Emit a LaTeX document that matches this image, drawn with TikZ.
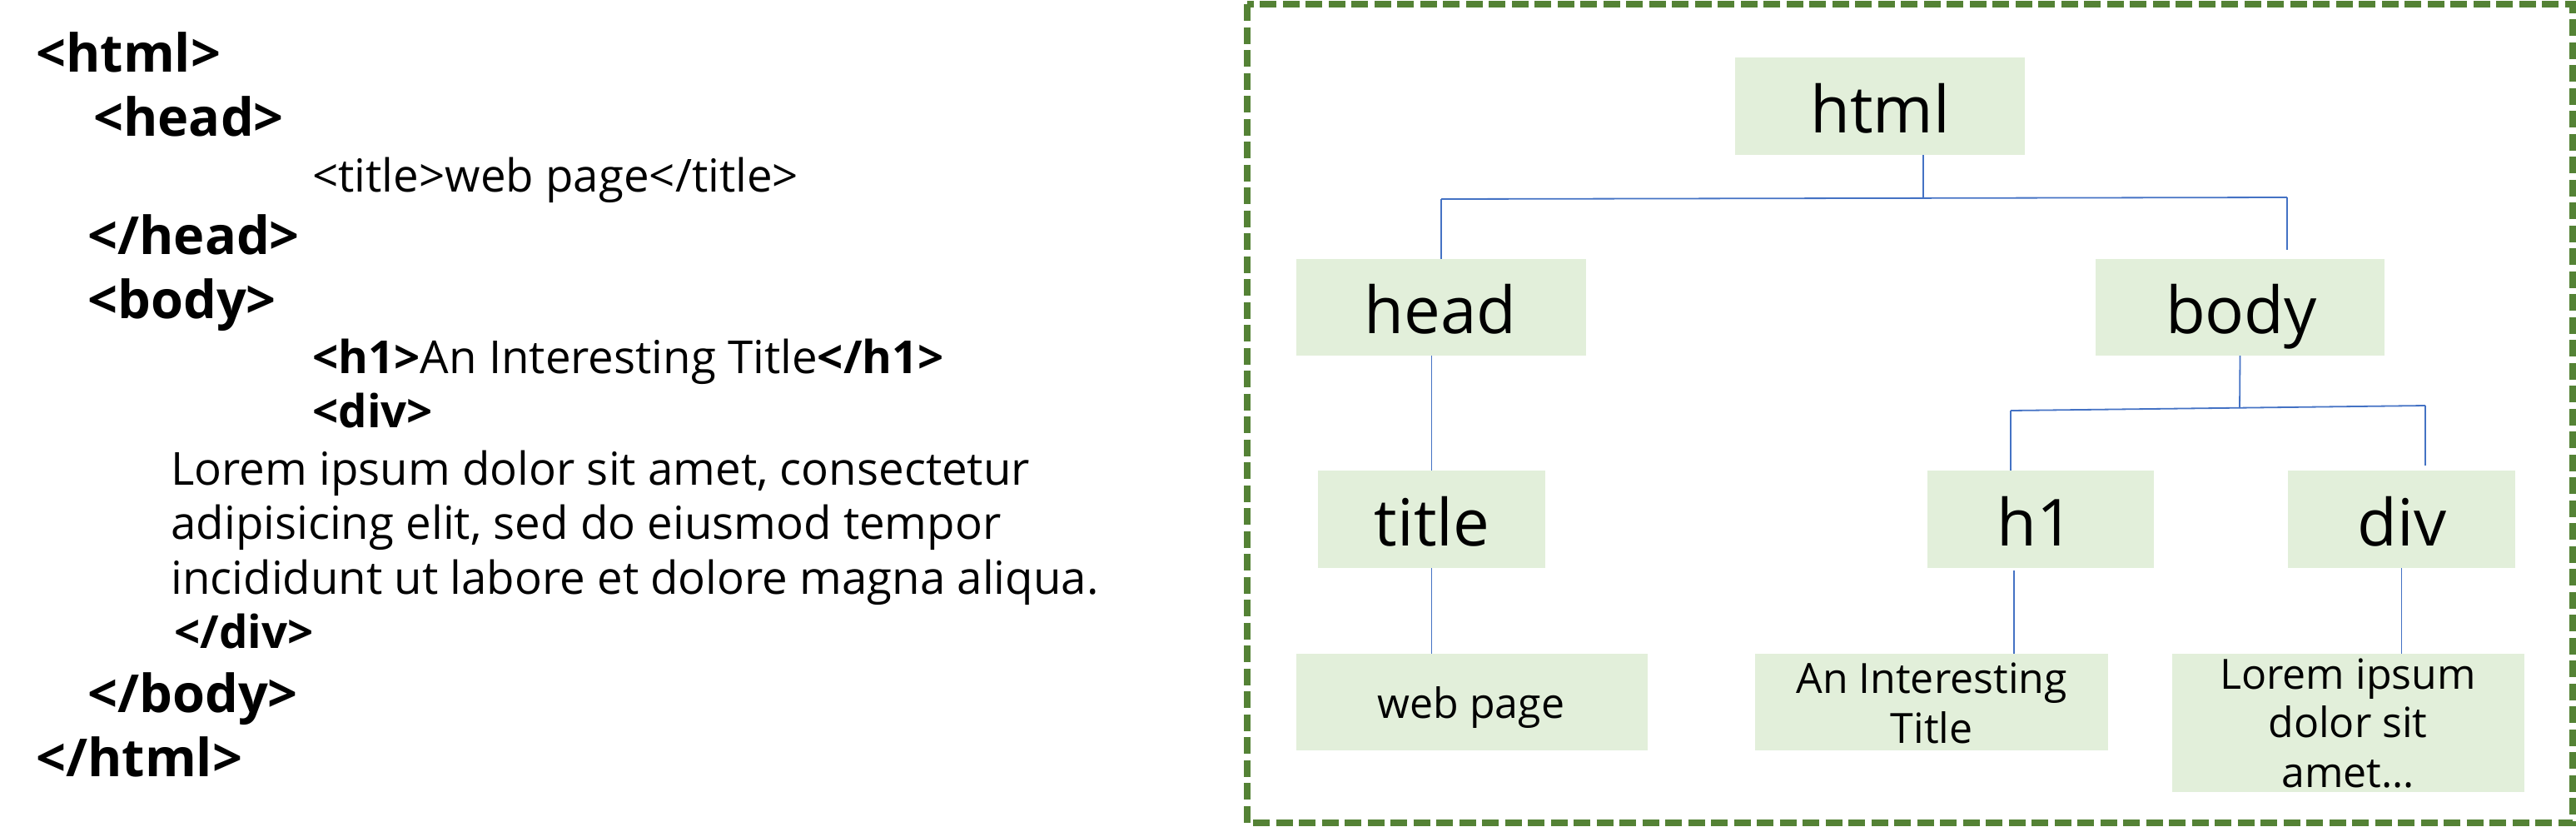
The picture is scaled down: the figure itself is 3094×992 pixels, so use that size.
\documentclass[tikz,border=0pt]{standalone}
\usepackage{fontspec}
\setmainfont{Open Sans}
\definecolor{boxgreen}{HTML}{E2EFDA}
\definecolor{framegreen}{HTML}{548235}
\definecolor{linkblue}{HTML}{4472C4}
\begin{document}
\begin{tikzpicture}[x=0.5pt,y=-0.5pt,
  box/.style={fill=boxgreen, draw=none, inner sep=0pt, outer sep=0pt},
  big/.style={font=\fontsize{39}{47}\selectfont, inner sep=0pt, anchor=base},
  small/.style={font=\fontsize{25}{30}\selectfont, inner sep=0pt, anchor=base},
  codebig/.style={font=\fontsize{31.5}{37}\selectfont\bfseries, inner sep=0pt, anchor=base west},
  code/.style={font=\fontsize{27.3}{32}\selectfont, inner sep=0pt, anchor=base west},
  conn/.style={draw=linkblue, line width=0.9pt},
  frame/.style={draw=framegreen, line width=3.6pt, dash pattern=on 10pt off 3.75pt}]
\useasboundingbox (0,0) rectangle (3094,992);

% ---------- left: source code ----------
\node[codebig] (c1) at (43,86) {<html>};
\node[codebig] (c2) at (112,163) {<head>};
\node[code] (c3) at (375,230) {<title>web page</title>};
\node[codebig] (c4) at (105,305) {</head>};
\node[codebig] (c5) at (105,382) {<body>};
\node[code] (c6) at (375,448) {\textbf{<h1>}An Interesting Title\textbf{</h1>}};
\node[code] (c7) at (375,513) {\textbf{<div>}};
\node[code] (c8) at (205,582) {Lorem ipsum dolor sit amet, consectetur};
\node[code] (c9) at (205,647) {adipisicing elit, sed do eiusmod tempor};
\node[code] (c10) at (205,713) {incididunt ut labore et dolore magna aliqua.};
\node[code] (c11) at (209,778) {\textbf{</div>}};
\node[codebig] (c12) at (105,855) {</body>};
\node[codebig] (c13) at (43,932) {</html>};

% ---------- right: frame ----------
\draw[frame] (1498,5) rectangle (3090,988);

% ---------- tree boxes ----------
\node[box, minimum width=174pt, minimum height=58.5pt] (html) at (2258,127.5) {};
\node[box, minimum width=174pt, minimum height=58pt] (head) at (1731,369) {};
\node[box, minimum width=173.5pt, minimum height=58pt] (body) at (2690.5,369) {};
\node[box, minimum width=136.5pt, minimum height=58.5pt] (title) at (1719.5,623.5) {};
\node[box, minimum width=136pt, minimum height=58.5pt] (h1) at (2451,623.5) {};
\node[box, minimum width=136.5pt, minimum height=58.5pt] (div) at (2884.5,623.5) {};
\node[box, minimum width=211pt, minimum height=58pt] (web) at (1768,843) {};
\node[box, minimum width=212pt, minimum height=58pt] (ait) at (2320,843) {};
\node[box, minimum width=211.5pt, minimum height=83pt] (lorem) at (2820.5,868) {};

% ---------- tree labels ----------
\node[big] (thtml) at (2258,159) {html};
\node[big] (thead) at (1730,400) {head};
\node[big] (tbody) at (2692,400) {body};
\node[big] (ttitle) at (1720,655) {title};
\node[big] (th1) at (2445,655) {h1};
\node[big] (tdiv) at (2885,655) {div};
\node[small] (tweb) at (1767,862) {web page};
\node[small] (tait1) at (2320,832) {An Interesting};
\node[small] (tait2) at (2320,892) {Title};
\node[small] (tlor1) at (2820,827) {Lorem ipsum};
\node[small] (tlor2) at (2820,885) {dolor sit};
\node[small] (tlor3) at (2820,945) {amet…};

% ---------- connectors ----------
\coordinate (jtop) at (2310,238);
\coordinate (jl) at (1731,239);
\coordinate (jr) at (2747,237);
\coordinate (jre) at (2747,300);
\draw[conn] (jtop |- html.south) -- (jtop);
\draw[conn] (jl) -- (jr);
\draw[conn] (jl) -- (head.north);
\draw[conn] (jr) -- (jre);

\draw[conn] (title.north |- head.south) -- (title.north);

\coordinate (jbm) at (2690,490);
\coordinate (jbl) at (2415,493);
\coordinate (jbr) at (2913,487);
\coordinate (jbre) at (2913,559);
\draw[conn] (body.south) -- (jbm);
\draw[conn] (jbl) -- (jbr);
\draw[conn] (jbl) -- (jbl |- h1.north);
\draw[conn] (jbr) -- (jbre);

\draw[conn] (title.south) -- (title.south |- web.north);
\coordinate (h1d) at (2419,685);
\draw[conn] (h1d) -- (h1d |- ait.north);
\draw[conn] (div.south) -- (div.south |- lorem.north);
\end{tikzpicture}
\end{document}
